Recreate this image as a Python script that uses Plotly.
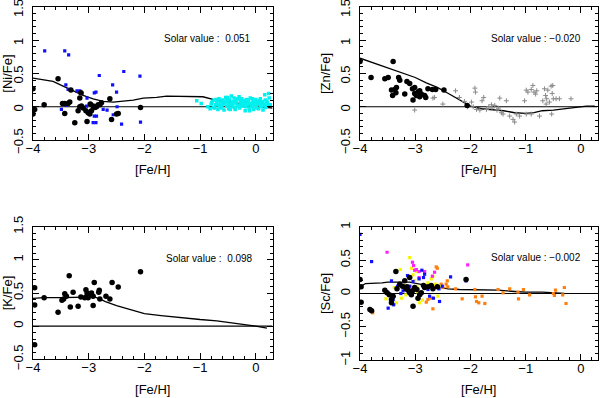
import plotly.graph_objects as go

# ---------------- data ----------------
# Panel 1: [Ni/Fe]
ni_black_x = [-4.0,-4.0,-3.97,-3.80,-3.55,-3.47,-3.43,-3.37,-3.43,-3.34,-3.32,-3.25,-3.19,-3.14,-3.16,-3.13,-3.05,-3.03,-3.01,-2.98,-2.97,-2.92,-2.89,-2.86,-2.83,-2.80,-2.77,-2.62,-2.59,-2.50,-2.47,-2.07,-3.16,-3.10,-2.95]
ni_black_y = [0.27,-0.11,-0.04,0.03,0.42,0.05,0.05,0.05,-0.10,0.07,0.25,-0.24,-0.06,0.21,0.13,0.01,-0.06,-0.22,-0.09,-0.11,0.04,0.01,-0.01,0.0,0.03,0.03,0.06,0.12,-0.19,-0.11,-0.10,-0.01,0.0,-0.02,-0.06]
ni_blue_x = [-3.79,-3.43,-3.36,-3.41,-3.37,-3.21,-3.16,-3.12,-3.49,-3.40,-3.03,-2.90,-2.87,-2.81,-2.99,-2.90,-2.86,-2.92,-2.87,-2.74,-2.67,-2.57,-2.50,-2.49,-2.41,-2.37,-2.08,-2.07,-2.56,-3.04]
ni_blue_y = [0.84,0.84,0.78,0.33,0.26,0.24,0.24,0.20,-0.04,0.02,0.13,0.21,0.22,0.47,0.04,-0.14,-0.14,-0.24,-0.24,-0.04,-0.05,0.33,0.22,0.0,-0.26,0.53,0.46,-0.23,-0.12,0.01]
ni_cyan_x = [-1.06,-0.98,-0.86,-0.82,-0.80,-0.78,-0.76,-0.75,-0.72,-0.70,-0.68,-0.66,-0.65,-0.63,-0.62,-0.60,-0.58,-0.57,-0.55,-0.54,
             -0.52,-0.50,-0.49,-0.47,-0.45,-0.44,-0.42,-0.40,-0.39,-0.37,-0.35,-0.34,-0.32,-0.30,-0.29,-0.27,-0.25,-0.24,-0.22,-0.20,
             -0.19,-0.17,-0.15,-0.14,-0.12,-0.10,-0.09,-0.07,-0.05,-0.04,-0.02,0.00,0.01,0.03,0.05,0.06,0.08,0.10,0.11,0.13,
             0.15,0.17,0.19,0.21,0.24,0.26,-0.79,-0.74,-0.69,-0.64,-0.59,-0.53,-0.48,-0.43,-0.38,-0.33,-0.28,-0.23,-0.18,-0.13,
             -0.08,-0.03,0.02,0.07,0.12,0.16,0.20,-0.71,-0.61,-0.51,-0.41,-0.31,-0.21,-0.11,-0.01,0.09,0.18,0.23,-0.56,-0.46,
             -0.36,-0.26,-0.16,-0.06,0.04,0.14,-0.67,-0.57,-0.47,-0.37,-0.27,-0.17,-0.07,0.03,0.12,0.22]
ni_cyan_y = [0.09,0.05,0.00,-0.03,0.04,0.08,-0.01,0.10,0.03,0.06,-0.04,0.12,0.02,0.07,-0.02,0.10,0.04,-0.05,0.08,0.14,
             0.01,0.06,-0.03,0.11,0.04,0.16,0.00,0.08,0.13,-0.04,0.05,0.10,0.02,0.15,-0.02,0.07,0.12,0.01,0.09,0.04,
             -0.06,0.11,0.03,0.07,-0.02,0.13,0.05,0.00,0.09,-0.04,0.06,0.11,0.02,0.08,-0.03,0.05,0.12,0.00,0.07,-0.05,
             0.04,0.10,0.01,0.06,0.13,0.03,0.06,-0.02,0.09,0.01,0.05,0.10,0.02,0.07,-0.01,0.12,0.04,0.08,0.00,0.10,
             0.05,0.02,-0.02,0.09,0.04,0.18,0.08,0.11,0.00,0.14,0.05,0.02,0.07,-0.06,0.04,0.01,-0.01,0.20,0.06,-0.04,
             0.09,0.03,0.06,0.12,0.07,0.02,0.03,0.08,0.05,-0.01,0.10,0.06,0.01,0.05,0.08,0.03]
ni_model_x = [-4.0,-3.82,-3.64,-3.46,-3.28,-3.10,-2.92,-2.74,-2.56,-2.38,-2.20,-2.02,-1.78,-1.60,-1.37,-1.13,-0.95,-0.77,-0.53,-0.29,-0.05,0.19,0.30]
ni_model_y = [0.43,0.41,0.38,0.31,0.24,0.17,0.12,0.08,0.07,0.08,0.10,0.13,0.14,0.16,0.16,0.16,0.15,0.11,0.08,0.04,0.01,-0.01,-0.02]

# Panel 2: [Zn/Fe]
zn_black_x = [-4.0,-3.80,-3.55,-3.49,-3.40,-3.30,-3.28,-3.43,-3.37,-3.34,-3.41,-3.35,-3.19,-3.15,-3.10,-3.05,-3.04,-3.01,-2.98,-2.95,-2.92,-2.89,-2.83,-2.81,-2.77,-2.69,-2.63,-2.48,-2.06,-3.01,-2.92]
zn_black_y = [0.68,0.44,0.42,0.44,0.68,0.44,0.40,0.25,0.26,0.29,0.17,0.21,0.19,0.38,0.35,0.27,0.10,0.20,0.17,0.22,0.15,0.19,0.17,0.14,0.27,0.26,0.26,0.25,0.02,0.29,0.24]
zn_grey_x = [-3.01,-2.68,-2.65,-2.50,-2.27,-2.20,-2.11,-2.05,-1.98,-1.95,-1.92,-1.91,-1.89,-1.83,-1.79,-1.76,-1.71,-1.67,-1.61,-1.56,
             -1.52,-1.47,-1.49,-1.44,-1.41,-1.35,-1.29,-1.23,-1.20,-1.17,-1.11,-1.02,-0.99,-0.96,-0.90,-0.87,-0.85,-0.82,-0.80,-0.90,
             -0.75,-0.69,-0.66,-0.64,-0.62,-0.60,-0.57,-0.54,-0.51,-0.52,-0.50,-0.45,-0.39,-0.53,-0.18,-0.63,-0.99,-1.62]
zn_grey_y = [-0.05,0.13,0.14,0.04,0.24,0.14,0.08,0.00,0.07,0.00,0.28,0.22,-0.04,-0.05,0.09,0.14,-0.04,0.00,-0.02,0.02,
             -0.05,0.13,-0.02,-0.09,-0.11,0.09,-0.14,-0.19,-0.23,-0.11,-0.14,0.09,0.25,0.22,0.26,0.32,0.22,0.19,0.24,-0.11,
             -0.14,0.09,0.27,0.17,0.12,0.25,0.07,0.31,0.32,0.20,0.12,0.12,0.12,-0.11,0.12,0.04,-0.11,0.03]
zn_model_x = [-4.0,-3.8,-3.6,-3.4,-3.2,-3.0,-2.8,-2.6,-2.4,-2.2,-2.0,-1.8,-1.6,-1.4,-1.2,-1.0,-0.85,-0.7,-0.5,-0.3,-0.1,0.1,0.25]
zn_model_y = [0.73,0.67,0.62,0.56,0.50,0.44,0.36,0.29,0.20,0.10,0.01,-0.03,-0.04,-0.06,-0.09,-0.10,-0.09,-0.06,-0.05,-0.03,-0.01,0.01,0.01]

# Panel 3: [K/Fe]
k_black_x = [-3.97,-3.97,-3.97,-3.80,-3.55,-3.48,-3.45,-3.43,-3.40,-3.35,-3.33,-3.28,-3.19,-3.14,-3.07,-3.05,-3.03,-3.01,-2.98,-2.95,-2.92,-2.92,-2.90,-2.81,-2.80,-2.69,-2.62,-2.58,-2.47,-2.07,-3.03,-2.82]
k_black_y = [0.58,0.32,-0.28,0.43,0.21,0.39,0.41,0.49,0.45,0.76,0.29,0.51,0.30,0.44,0.43,0.55,0.50,0.43,0.48,0.50,0.45,0.31,0.66,0.54,0.41,0.45,0.41,0.66,0.59,0.82,0.45,0.51]
k_model_x = [-4.0,-3.8,-3.5,-3.2,-2.9,-2.8,-2.7,-2.5,-2.2,-2.0,-1.7,-1.5,-1.2,-1.0,-0.7,-0.5,-0.2,0.0,0.2]
k_model_y = [0.42,0.43,0.43,0.44,0.44,0.41,0.37,0.31,0.24,0.19,0.16,0.14,0.12,0.10,0.08,0.06,0.03,0.00,-0.03]

# Panel 4: [Sc/Fe]
sc_black_x = [-4.0,-3.98,-3.98,-3.82,-3.79,-3.55,-3.51,-3.47,-3.43,-3.43,-3.40,-3.35,-3.33,-3.28,-3.23,-3.19,-3.17,-3.13,-3.10,-3.07,-3.05,-3.04,-3.01,-2.97,-2.95,-2.92,-2.89,-2.85,-2.83,-2.77,-2.71,-2.68,-2.60,-2.08,-3.10,-3.15]
sc_black_y = [0.21,0.10,-0.13,-0.24,-0.26,0.05,0.01,-0.02,-0.09,-0.14,-0.04,0.33,0.07,0.14,0.11,0.19,0.07,0.05,0.01,-0.02,0.04,-0.19,0.09,0.06,-0.07,-0.02,0.01,0.12,0.09,0.10,0.12,0.07,0.10,0.21,0.24,0.10]
sc_blue_x = [-4.0,-3.79,-3.49,-3.43,-3.40,-3.39,-3.32,-3.26,-3.14,-3.10,-3.04,-3.01,-2.93,-2.88,-2.85,-2.83,-2.80,-2.77,-2.74,-2.67,-2.57,-2.56,-2.51,-2.36,-2.08,-3.22]
sc_blue_y = [0.89,0.48,-0.22,0.19,-0.09,-0.17,0.11,0.00,0.27,0.11,0.18,0.07,0.22,0.35,0.24,0.29,0.10,0.06,-0.04,-0.07,0.07,-0.12,0.11,0.25,0.19,0.04]
sc_yellow_x = [-3.53,-3.38,-3.34,-3.27,-3.25,-3.21,-3.17,-3.10,-3.07,-3.04,-3.01,-2.98,-2.97,-2.95,-2.92,-2.87,-2.77,-2.71,-2.68,-2.63,-2.59,-2.56]
sc_yellow_y = [-0.08,0.09,-0.14,0.36,-0.07,0.12,-0.02,0.54,0.38,0.28,0.19,0.33,0.10,0.02,-0.14,-0.10,0.16,0.22,0.26,0.14,-0.04,0.11]
sc_magenta_x = [-3.51,-3.05,-3.03,-2.98,-2.93,-3.01,-2.93,-2.83,-2.69,-2.65,-2.05,-3.10]
sc_magenta_y = [0.62,0.47,0.42,0.36,0.33,0.35,0.24,0.33,0.26,0.32,0.43,0.10]
sc_orange_x = [-3.77,-2.80,-2.77,-2.71,-2.68,-2.65,-2.62,-2.60,-2.53,-2.50,-2.44,-2.42,-2.41,-2.27,-2.15,-1.92,-1.91,-1.89,-1.85,-1.79,
               -1.74,-1.50,-1.41,-1.29,-1.14,-1.13,-1.04,-0.93,-0.46,-0.50,-0.48,-0.33,-0.30,-0.27]
sc_orange_y = [-0.29,-0.13,-0.09,-0.07,-0.23,0.10,0.40,0.38,0.14,0.09,0.14,0.19,0.10,0.07,-0.08,0.06,-0.05,-0.12,-0.14,-0.04,
               -0.15,0.06,0.01,0.07,0.02,-0.08,0.06,-0.02,0.05,0.00,-0.03,-0.02,0.09,-0.15]
sc_model_x = [-4.0,-3.95,-3.9,-3.6,-3.5,-3.1,-3.0,-2.85,-2.7,-2.55,-2.4,-2.2,-2.0,-1.7,-1.5,-1.2,-1.0,-0.7,-0.5,-0.3]
sc_model_y = [0.10,0.13,0.15,0.16,0.17,0.17,0.15,0.13,0.11,0.09,0.07,0.06,0.06,0.05,0.05,0.03,0.02,0.02,0.01,0.00]

solar_texts = ["Solar value :  0.051", "Solar value : \u22120.020", "Solar value :  0.098", "Solar value : \u22120.002"]
y_titles = ["[Ni/Fe]", "[Zn/Fe]", "[K/Fe]", "[Sc/Fe]"]
x_title = "[Fe/H]"
x_range = [-4.0, 0.3]
zero_x = [-4.0, 0.3]
zero_y = [0.0, 0.0]

# ---------------- figure ----------------
W, H = 600, 398
FONT = "Liberation Sans"
fig = go.Figure()

def px_x(a, b):
    return [a / W, b / W]

def px_y(top, bottom):
    return [1 - bottom / H, 1 - top / H]

domains = [
    (px_x(33, 272.5), px_y(7, 140)),
    (px_x(360, 597.5), px_y(7, 140)),
    (px_x(33, 272.5), px_y(226.7, 359.3)),
    (px_x(360, 597.5), px_y(227, 360)),
]
y_ranges = [[-0.5, 1.5], [-0.5, 1.5], [-0.5, 1.5], [-1.0, 1.0]]
y_label_shift = [3, 3, 0, 0]
solar_pos = [(-0.05, 1.03), (0.03, 1.02), (-0.01, 1.02), (0.03, 0.535)]

def add_sc(i, x, y, color, size, symbol="circle", lw=0):
    fig.add_trace(go.Scatter(x=x, y=y, mode="markers", xaxis=f"x{i+1}", yaxis=f"y{i+1}",
                             marker=dict(color=color, size=size, symbol=symbol,
                                         line=dict(width=lw, color=color)),
                             showlegend=False, hoverinfo="skip"))

def add_line(i, x, y, width=1.3):
    fig.add_trace(go.Scatter(x=x, y=y, mode="lines", xaxis=f"x{i+1}", yaxis=f"y{i+1}",
                             line=dict(color="black", width=width), showlegend=False, hoverinfo="skip"))

# panel 1
add_line(0, zero_x, zero_y, 1.2)
add_line(0, ni_model_x, ni_model_y)
add_sc(0, ni_cyan_x, ni_cyan_y, "#00f0f0", 3.5, "square")
add_sc(0, ni_blue_x, ni_blue_y, "#1010ff", 3.2, "square")
add_sc(0, ni_black_x, ni_black_y, "black", 5.5, "circle")
# panel 2
add_line(1, zero_x, zero_y, 1.2)
add_line(1, zn_model_x, zn_model_y)
add_sc(1, zn_grey_x, zn_grey_y, "#8a8a8a", 3.5, "cross-thin-open", 1)
add_sc(1, zn_black_x, zn_black_y, "black", 5.5, "circle")
# panel 3
add_line(2, zero_x, zero_y, 1.2)
add_line(2, k_model_x, k_model_y)
add_sc(2, k_black_x, k_black_y, "black", 5.5, "circle")
# panel 4
add_line(3, zero_x, zero_y, 1.2)
add_line(3, sc_model_x, sc_model_y)
add_sc(3, sc_orange_x, sc_orange_y, "#ff7f10", 3.2, "square")
add_sc(3, sc_yellow_x, sc_yellow_y, "#f5f500", 3.2, "square")
add_sc(3, sc_magenta_x, sc_magenta_y, "#ff20ff", 3.2, "square")
add_sc(3, sc_blue_x, sc_blue_y, "#1010ff", 3.2, "square")
add_sc(3, sc_black_x, sc_black_y, "black", 5.5, "circle")

layout = dict(width=W, height=H, margin=dict(l=0, r=0, t=0, b=0, autoexpand=False),
              paper_bgcolor="white", plot_bgcolor="white",
              font=dict(family=FONT, size=13, color="black"))
for i in range(4):
    xd, yd = domains[i]
    layout[f"xaxis{i+1}"] = dict(
        domain=xd, range=x_range, anchor=f"y{i+1}", showgrid=False, zeroline=False, automargin=False,
        showline=True, linecolor="black", linewidth=1, mirror="allticks",
        ticks="inside", ticklen=6, tickwidth=1, tickcolor="black", dtick=1, tick0=0,
        minor=dict(ticks="inside", ticklen=3, dtick=0.2, tickcolor="black", showgrid=False),
        tickfont=dict(family=FONT, size=13), ticklabelstandoff=-4, ticklabeloverflow="allow",
        title=dict(text=x_title, font=dict(family=FONT, size=13), standoff=10))
    layout[f"yaxis{i+1}"] = dict(
        domain=yd, range=y_ranges[i], anchor=f"x{i+1}", showgrid=False, zeroline=False, automargin=False,
        showline=True, linecolor="black", linewidth=1, mirror="allticks",
        ticks="inside", ticklen=6, tickwidth=1, tickcolor="black", dtick=0.5, tick0=0,
        minor=dict(ticks="inside", ticklen=3, dtick=0.1, tickcolor="black", showgrid=False),
        tickangle=-90, tickfont=dict(family=FONT, size=13), ticklabelstandoff=4, ticklabeloverflow="allow",
        ticklabelshift=y_label_shift[i],
        title=dict(text=y_titles[i], font=dict(family=FONT, size=13), standoff=4))
fig.update_layout(**layout)

for i in range(4):
    fig.add_annotation(x=solar_pos[i][0], y=solar_pos[i][1], xref=f"x{i+1}", yref=f"y{i+1}",
                       text=solar_texts[i], showarrow=False, xanchor="right", yanchor="middle",
                       font=dict(family=FONT, size=10, color="black"))

fig.write_html("out.html", config={"displayModeBar": False},
               post_script="document.body.style.margin='0';")
